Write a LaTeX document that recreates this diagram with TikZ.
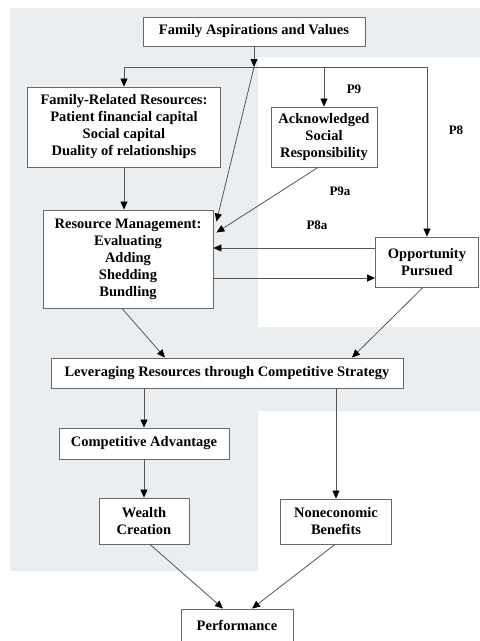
\documentclass[tikz,border=0pt]{standalone}
\usepackage{fontspec}
\setmainfont{Liberation Serif}
\usetikzlibrary{arrows.meta,calc}
\definecolor{panel}{RGB}{235,238,241}
\definecolor{edge}{RGB}{85,85,85}
\definecolor{frame}{RGB}{105,105,105}
\begin{document}
\begin{tikzpicture}[x=1pt,y=-1pt,
  box/.style={draw=frame, line width=0.9pt, fill=white, align=center,
    font=\fontsize{14.5}{17}\selectfont\bfseries, inner sep=0pt},
  conn/.style={draw=edge, line width=0.8pt},
  arr/.style={conn, -{Triangle[length=8pt,width=7pt,color=black]}},
  plabel/.style={font=\fontsize{13}{15}\selectfont\bfseries, inner sep=0pt}]
\useasboundingbox (0,0) rectangle (480,641);

% shaded background panel
\fill[panel] (10,8) -- (480,8) -- (480,57) -- (258,57) -- (258,327)
  -- (480,327) -- (480,411) -- (258,411) -- (258,571) -- (10,571) -- cycle;

% boxes
\node[box, minimum width=222pt, minimum height=29pt] (fav) at (254,31.5) {Family Aspirations and Values};
\node[box, minimum width=193pt, minimum height=80pt] (frr) at (124,127)
  {Family-Related Resources:\\Patient financial capital\\Social capital\\Duality of relationships};
\node[box, minimum width=106pt, minimum height=60pt] (asr) at (324,137)
  {Acknowledged\\Social\\Responsibility};
\node[box, minimum width=170pt, minimum height=98pt] (rm) at (128,259)
  {Resource Management:\\Evaluating\\Adding\\Shedding\\Bundling};
\node[box, minimum width=103pt, minimum height=50pt] (op) at (427,262)
  {Opportunity\\Pursued};
\node[box, minimum width=352pt, minimum height=30pt] (lev) at (227,373)
  {Leveraging Resources through Competitive Strategy};
\node[box, minimum width=170pt, minimum height=31pt] (ca) at (144,443.5)
  {Competitive Advantage};
\node[box, minimum width=90pt, minimum height=46pt] (wc) at (144,521)
  {Wealth\\Creation};
\node[box, minimum width=111pt, minimum height=45pt] (nb) at (336,521.5)
  {Noneconomic\\Benefits};
\node[box, minimum width=112pt, minimum height=32pt] (perf) at (237,625)
  {Performance};

% proposition labels
\node[plabel] (p9) at (354,89) {P9};
\node[plabel] (p8) at (456,130) {P8};
\node[plabel] (p9a) at (340,191) {P9a};
\node[plabel] (p8a) at (317,225) {P8a};

% branching from aspirations
\coordinate (br) at (254,67);
\coordinate (brL) at (124,67);
\coordinate (brR) at (427,67);
\draw[arr] (fav.south) -- (br);
\draw[conn] (brL) -- (brR);
\draw[arr] (brL) -- (frr.north);
\draw[arr] (asr.north |- br) -- (asr.north);
\draw[arr] (brR) -- (op.north);
\draw[arr] (br) -- ($(rm.north east)+(3,12)$);

% into resource management
\draw[arr] (frr.south) -- (frr.south |- rm.north);
\draw[arr] ($(asr.south)+(-6,0)$) -- ($(rm.north east)+(3,23)$);
\draw[arr] ($(op.west)+(0,-14)$) -- ($(rm.east)+(0,-11)$);
\draw[arr] ($(rm.east)+(0,19)$) -- ($(op.west)+(0,16)$);

% into leveraging
\draw[arr] ($(rm.south)+(-6,0)$) -- ($(lev.north)+(-62,0)$);
\draw[arr] ($(op.south)+(-4,0)$) -- ($(lev.north)+(125,0)$);

% outcomes
\draw[arr] (lev.south -| ca.north) -- (ca.north);
\draw[arr] (lev.south -| nb.north) -- (nb.north);
\draw[arr] (ca.south) -- (wc.north);
\draw[arr] ($(wc.south)+(6,0)$) -- ($(perf.north)+(-14,0)$);
\draw[arr] ($(nb.south)+(-1,0)$) -- ($(perf.north)+(15,0)$);
\end{tikzpicture}
\end{document}
